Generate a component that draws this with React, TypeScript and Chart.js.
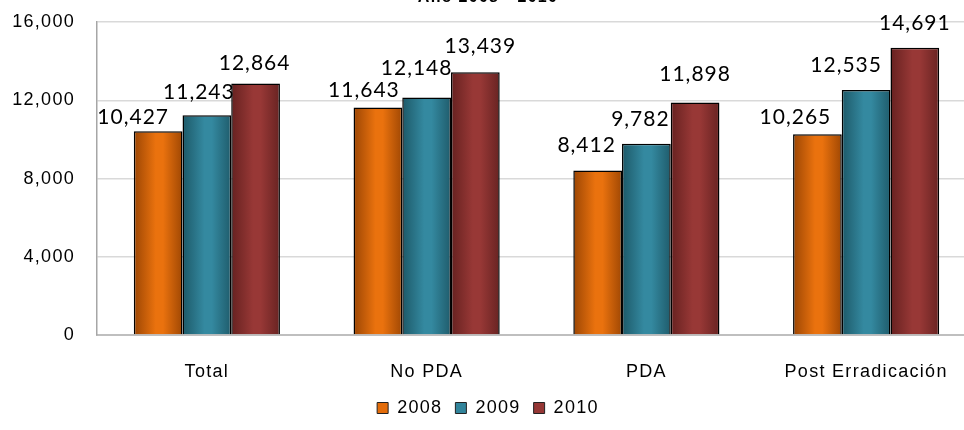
import React, { useEffect, useRef } from "react";
import { Chart, registerables } from "chart.js";

Chart.register(...registerables);

const categories = ["Total", "No PDA", "PDA", "Post Erradicación"];
const years = ["2008", "2009", "2010"];
const values2008 = [10427, 11643, 8412, 10265];
const values2009 = [11243, 12148, 9782, 12535];
const values2010 = [12864, 13439, 11898, 14691];
const yTicks = [0, 4000, 8000, 12000, 16000];

// label placement: [dx, gap above bar top] in px, per series per category
const labelPlacement = [
  [[-25, 7], [-14, 10], [-11, 19], [-22, 10]],
  [[-8, 16], [-10, 23], [-6, 18], [-20, 18]],
  [[-1, 14], [5, 19], [0, 21], [0, 18]],
];

const colors = [
  ["#9c4604", "#ea720e", "#a04804"],
  ["#1d5968", "#3489a0", "#1f5c6c"],
  ["#662120", "#983836", "#682322"],
];
const legendColors = ["#e36c0a", "#31849b", "#953735"];

const fmt = (v: number) => v.toLocaleString("en-US");
const SPACING = "1.3px";
const ARIAL = "Arial, 'Liberation Sans', sans-serif";

const spacingPlugin = {
  id: "spacing",
  beforeUpdate(chart: any) {
    chart.ctx.letterSpacing = SPACING;
  },
  beforeDraw(chart: any) {
    chart.ctx.letterSpacing = SPACING;
  },
};

const gradientPlugin = {
  id: "barGradient",
  beforeDatasetsDraw(chart: any) {
    const ctx = chart.ctx;
    chart.data.datasets.forEach((_: any, di: number) => {
      const meta = chart.getDatasetMeta(di);
      meta.data.forEach((el: any) => {
        const l = el.x - el.width / 2;
        const r = el.x + el.width / 2;
        const g = ctx.createLinearGradient(l, 0, r, 0);
        g.addColorStop(0, colors[di][0]);
        g.addColorStop(0.45, colors[di][1]);
        g.addColorStop(0.6, colors[di][1]);
        g.addColorStop(1, colors[di][2]);
        el.options.backgroundColor = g;
      });
    });
  },
};

const labelPlugin = {
  id: "valueLabels",
  afterDatasetsDraw(chart: any) {
    const ctx = chart.ctx;
    ctx.save();
    ctx.letterSpacing = "1px";
    ctx.font = "21px Lato, 'Open Sans', sans-serif";
    ctx.fillStyle = "#000";
    ctx.textAlign = "center";
    ctx.textBaseline = "alphabetic";
    chart.data.datasets.forEach((ds: any, di: number) => {
      const meta = chart.getDatasetMeta(di);
      meta.data.forEach((el: any, i: number) => {
        const [dx, gap] = labelPlacement[di][i];
        ctx.fillText(fmt(ds.data[i]), el.x + dx, el.y - gap);
      });
    });
    ctx.restore();
  },
};

export default function App() {
  const ref = useRef<HTMLCanvasElement>(null);
  useEffect(() => {
    if (!ref.current) return;
    const data = [values2008, values2009, values2010];
    const chart = new Chart(ref.current, {
      type: "bar",
      data: {
        labels: categories,
        datasets: years.map((y, i) => ({
          label: y,
          data: data[i],
          backgroundColor: () => legendColors[i],
          borderColor: "#000",
          borderWidth: 1.5,
          barPercentage: 1,
          categoryPercentage: 0.665,
        })),
      },
      options: {
        animation: false,
        responsive: false,
        devicePixelRatio: 1,
        layout: { padding: { top: 0, right: 2, left: 0, bottom: 3 } },
        plugins: {
          title: {
            display: true,
            text: "Año 2008 - 2010",
            font: { family: ARIAL, size: 16, weight: "bold" },
            color: "#000",
            padding: { top: 0, bottom: 15 },
          },
          legend: {
            position: "bottom",
            labels: {
              boxWidth: 11,
              boxHeight: 11,
              color: "#000",
              font: { family: ARIAL, size: 18 },
              padding: 13,
              generateLabels: () =>
                years.map((y, i) => ({
                  text: y,
                  fillStyle: legendColors[i],
                  strokeStyle: "#222",
                  lineWidth: 1,
                  datasetIndex: i,
                  fontColor: "#000",
                })),
            },
          },
          tooltip: { enabled: false },
        },
        scales: {
          x: {
            grid: { display: false, drawTicks: false },
            border: { color: "#bfbfbf", width: 2 },
            afterFit: (axis: any) => {
              axis.height = 51;
            },
            ticks: {
              color: "#000",
              font: { family: ARIAL, size: 18 },
              padding: 26,
              maxRotation: 0,
            },
          },
          y: {
            min: 0,
            max: 16000,
            afterBuildTicks: (axis: any) => {
              axis.ticks = yTicks.map((v) => ({ value: v }));
            },
            afterFit: (axis: any) => {
              axis.width = 97;
            },
            grid: { color: "#d9d9d9", drawTicks: false, lineWidth: 1.5 },
            border: { color: "#a6a6a6", width: 1.5 },
            ticks: {
              color: "#000",
              font: { family: ARIAL, size: 18 },
              padding: 22,
              callback: (v: any) => fmt(Number(v)),
            },
          },
        },
      },
      plugins: [spacingPlugin, gradientPlugin, labelPlugin],
    });
    return () => chart.destroy();
  }, []);
  return (
    <div style={{ position: "fixed", left: 0, top: -12, width: 964, height: 442, overflow: "hidden" }}>
      <canvas ref={ref} width={978} height={442} style={{ display: "block", width: 978, height: 442 }} />
    </div>
  );
}
